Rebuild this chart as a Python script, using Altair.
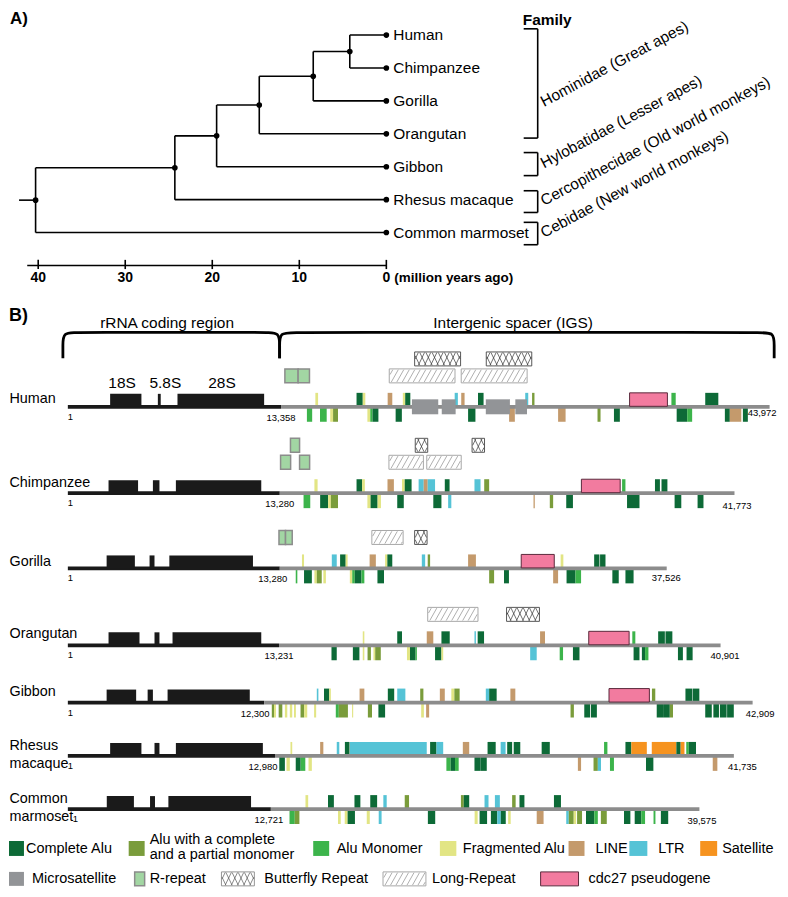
import altair as alt
import pandas as pd

FONT = "Liberation Sans, Arial, Helvetica, sans-serif"

# ===================== A) phylogeny data =====================
species = ["Human", "Chimpanzee", "Gorilla", "Orangutan", "Gibbon",
           "Rhesus macaque", "Common marmoset"]
node_name = ["n1", "n2", "n3", "n4", "n5", "root"]
node_left = ["Human", "n1", "n2", "n3", "n4", "n5"]
node_right = ["Chimpanzee", "Gorilla", "Orangutan", "Gibbon",
              "Rhesus macaque", "Common marmoset"]
node_age = [4.2, 8.4, 14.6, 19.5, 24.3, 40.3]      # million years ago
stem_age = 42.2
time_ticks = [40, 30, 20, 10, 0]
family_label = ["Hominidae (Great apes)", "Hylobatidae (Lesser apes)",
                "Cercopithecidae (Old world monkeys)", "Cebidae (New world monkeys)"]
family_top = [-0.19, 3.57, 4.73, 5.69]             # species-row units
family_bottom = [3.13, 4.27, 5.39, 6.37]

# ===================== B) rDNA units (kb) =====================
rrna_end = [13.358, 13.280, 13.280, 13.231, 12.300, 12.980, 12.721]
total_len = [43.972, 41.773, 37.526, 40.901, 42.909, 41.735, 39.575]
gene_names = ["18S", "5.8S", "28S"]
gene_18S = [(2.65, 4.61), (2.55, 4.40), (2.43, 4.20), (2.55, 4.49), (2.43, 4.28), (2.65, 4.61), (2.44, 4.14)]
gene_58S = [(5.64, 5.82), (5.33, 5.74), (5.12, 5.43), (5.43, 5.74), (5.00, 5.33), (5.43, 5.74), (5.15, 5.46)]
gene_28S = [(6.87, 12.30), (6.77, 12.12), (6.36, 11.60), (6.56, 12.12), (6.25, 11.40), (6.77, 12.22), (6.30, 11.48)]

# repeat codes: CA complete Alu, AP Alu complete+partial, AM Alu monomer,
# FA fragmented Alu, LN LINE, LT LTR, SA satellite
human_up = [(15.51, 15.68, "FA"), (18.09, 18.48, "CA"), (18.48, 18.64, "FA"), (20.04, 20.33, "LN"),
            (20.99, 21.14, "FA"), (21.14, 21.46, "CA"), (24.24, 24.44, "LT"), (24.65, 24.86, "LN"),
            (25.70, 26.05, "CA"), (28.66, 28.85, "LT"), (29.09, 29.24, "AP"), (37.82, 38.09, "AM"),
            (39.94, 40.76, "CA")]
human_down = [(14.98, 15.31, "AM"), (15.80, 16.22, "AM"), (16.44, 16.62, "FA"), (16.62, 16.93, "AP"),
              (18.77, 18.95, "FA"), (18.95, 19.09, "AM"), (19.09, 19.46, "CA"), (20.54, 20.93, "CA"),
              (25.08, 25.54, "CA"), (27.65, 28.01, "LN"), (30.72, 31.19, "LN"), (33.19, 33.38, "AP"),
              (34.22, 34.59, "CA"), (38.15, 38.81, "CA"), (38.81, 39.12, "AM"), (41.17, 41.48, "CA"),
              (41.48, 42.20, "LN"), (42.30, 42.61, "CA")]
chimp_up = [(15.45, 15.65, "FA"), (18.09, 18.44, "CA"), (18.44, 18.61, "FA"), (20.03, 20.43, "LN"),
            (20.94, 21.11, "FA"), (21.11, 21.54, "CA"), (21.98, 22.30, "LT"), (22.30, 22.55, "LN"),
            (22.55, 23.01, "LT"), (23.62, 23.92, "CA"), (25.48, 25.86, "LT"), (26.09, 26.40, "AP"),
            (34.73, 34.94, "AM"), (36.79, 37.10, "CA"), (37.20, 37.57, "CA")]
chimp_down = [(14.77, 15.19, "AM"), (15.81, 16.31, "CA"), (16.31, 16.48, "FA"), (16.48, 16.93, "AP"),
              (18.77, 18.97, "FA"), (18.97, 19.41, "CA"), (19.41, 19.62, "FA"), (20.64, 21.05, "CA"),
              (22.90, 23.41, "CA"), (23.83, 24.03, "LT"), (29.18, 29.26, "LN"), (30.20, 30.41, "AP"),
              (31.23, 31.65, "CA"), (35.04, 35.82, "CA"), (38.02, 38.44, "CA"), (39.46, 39.83, "CA")]
gorilla_up = [(14.67, 14.80, "FA"), (16.54, 16.85, "LT"), (17.06, 17.41, "CA"), (17.41, 17.53, "FA"),
              (18.91, 19.30, "LN"), (19.88, 20.02, "FA"), (20.02, 20.33, "CA"), (22.18, 22.39, "LT"),
              (22.55, 22.70, "AP"), (25.08, 25.57, "LN"), (30.88, 31.05, "FA"), (32.98, 33.31, "CA"),
              (33.35, 33.69, "CA")]
gorilla_down = [(14.28, 14.38, "AM"), (14.80, 15.29, "CA"), (15.45, 15.60, "FA"), (15.60, 15.91, "AP"),
                (16.01, 16.17, "FA"), (17.67, 17.82, "FA"), (17.82, 17.98, "AM"), (17.98, 18.40, "CA"),
                (18.40, 18.58, "AM"), (19.40, 19.81, "CA"), (26.40, 26.71, "AP"), (27.33, 27.64, "CA"),
                (30.41, 30.72, "LN"), (31.25, 31.81, "CA"), (31.81, 32.16, "AM"), (34.12, 34.52, "CA"),
                (34.94, 35.45, "CA")]
orangutan_up = [(18.48, 18.58, "FA"), (20.64, 20.94, "CA"), (22.49, 22.90, "LN"), (23.41, 23.93, "CA"),
                (25.48, 25.57, "LT"), (25.68, 26.08, "CA"), (29.59, 29.90, "LN"), (35.37, 35.56, "AM"),
                (36.99, 37.41, "CA"), (37.45, 37.88, "CA")]
orangutan_down = [(16.52, 16.85, "CA"), (17.86, 18.27, "CA"), (18.48, 18.58, "FA"), (18.78, 18.99, "AP"),
                  (19.15, 19.26, "FA"), (19.26, 19.61, "AP"), (21.25, 21.44, "FA"), (21.44, 21.79, "CA"),
                  (21.79, 21.87, "AM"), (23.01, 23.41, "CA"), (23.41, 23.52, "FA"), (28.97, 29.38, "LT"),
                  (30.82, 31.03, "AM"), (31.65, 32.06, "CA"), (35.45, 35.82, "CA"), (35.97, 36.17, "CA"),
                  (36.17, 36.38, "AM"), (38.23, 38.54, "CA"), (38.77, 39.15, "CA")]
gibbon_up = [(15.60, 15.70, "LT"), (16.05, 16.38, "CA"), (16.38, 16.48, "FA"), (18.28, 18.58, "LN"),
             (20.05, 20.45, "CA"), (20.64, 21.15, "LT"), (22.08, 22.28, "AP"), (23.31, 23.62, "LN"),
             (24.03, 24.22, "FA"), (24.22, 24.55, "AP"), (26.19, 26.40, "LT"), (26.40, 26.87, "CA"),
             (27.73, 28.04, "LN"), (36.60, 36.81, "AP"), (38.70, 39.12, "CA"), (39.15, 39.57, "CA")]
gibbon_down = [(12.78, 12.92, "AP"), (12.92, 13.04, "FA"), (13.21, 13.44, "AP"), (13.60, 13.75, "FA"),
               (13.91, 14.06, "FA"), (14.17, 14.29, "FA"), (14.58, 14.81, "AP"), (14.81, 15.00, "FA"),
               (15.43, 15.56, "FA"), (16.79, 16.98, "AM"), (16.98, 17.55, "AP"), (17.81, 17.88, "FA"),
               (18.80, 19.06, "AP"), (19.46, 19.88, "CA"), (22.14, 22.31, "FA"), (22.45, 22.64, "LN"),
               (31.50, 31.71, "AP"), (32.36, 32.73, "CA"), (32.78, 33.15, "CA"), (36.90, 37.30, "CA"),
               (37.30, 37.72, "CA"), (37.72, 37.92, "AP"), (39.94, 40.35, "CA"), (40.45, 40.80, "CA"),
               (40.86, 41.28, "CA"), (41.31, 41.73, "CA")]
rhesus_up = [(13.95, 14.06, "FA"), (15.81, 16.01, "LN"), (16.85, 17.01, "LT"), (17.36, 17.65, "CA"),
             (17.68, 22.49, "LT"), (22.70, 23.10, "CA"), (23.10, 23.52, "LT"), (24.75, 25.15, "LN"),
             (26.30, 26.81, "CA"), (27.12, 27.43, "LT"), (27.53, 27.84, "CA"), (27.94, 28.35, "CA"),
             (29.69, 30.20, "CA"), (33.60, 33.81, "AM"), (34.94, 35.31, "CA"), (35.31, 36.28, "SA"),
             (36.59, 38.13, "SA"), (38.13, 38.40, "CA"), (38.40, 38.64, "SA"), (38.75, 38.91, "AM"),
             (38.91, 39.36, "CA")]
rhesus_down = [(13.25, 13.60, "CA"), (13.70, 13.91, "FA"), (14.28, 14.59, "CA"), (14.59, 14.88, "AM"),
               (15.08, 15.29, "FA"), (23.72, 23.99, "AM"), (23.99, 24.26, "CA"), (24.26, 24.49, "AM"),
               (25.48, 25.85, "CA"), (25.85, 26.25, "CA"), (31.96, 32.16, "LN"), (32.94, 33.21, "AP"),
               (33.21, 33.41, "LT"), (33.97, 34.22, "AM"), (36.23, 36.69, "CA"), (40.41, 40.70, "LN")]
marmoset_up = [(14.89, 15.06, "FA"), (16.30, 16.67, "CA"), (17.96, 18.33, "CA"), (18.95, 19.38, "CA"),
               (19.77, 19.98, "LT"), (21.11, 21.38, "AP"), (24.63, 24.81, "AP"), (24.81, 25.15, "CA"),
               (26.11, 26.36, "LT"), (26.76, 27.07, "LT"), (27.84, 28.06, "AP"), (28.30, 28.61, "CA"),
               (30.46, 30.90, "CA")]
marmoset_down = [(13.89, 14.22, "AM"), (14.22, 14.51, "AP"), (16.93, 17.10, "FA"), (17.35, 17.53, "FA"),
                 (17.53, 17.99, "CA"), (18.73, 18.92, "FA"), (19.48, 19.66, "LT"), (22.56, 23.02, "CA"),
                 (25.49, 25.68, "FA"), (25.80, 26.27, "CA"), (26.51, 26.91, "CA"), (26.91, 27.13, "LT"),
                 (27.13, 27.44, "CA"), (27.59, 27.75, "FA"), (29.38, 29.81, "LN"), (31.23, 31.39, "LT"),
                 (31.39, 31.70, "AP"), (31.70, 31.85, "FA"), (31.91, 32.22, "AP"), (32.47, 32.99, "CA"),
                 (32.99, 33.21, "AM"), (33.40, 33.77, "AP"), (34.85, 35.25, "CA"), (35.52, 35.93, "CA"),
                 (35.93, 36.17, "AM"), (36.70, 36.82, "AM"), (37.16, 37.62, "CA")]
human_micro = [(21.56, 23.21), (23.43, 24.30), (26.19, 27.70), (28.04, 28.77)]
cdc27 = [(35.20, 37.57), (32.18, 34.61), (28.41, 30.48), (32.64, 35.17), (33.91, 36.44), None, None]
# (start, end, stacking level above the line)
r_repeat = [[(13.60, 14.43, 1), (14.43, 15.14, 1)],
            [(13.33, 13.96, 1), (14.52, 15.15, 1), (13.95, 14.52, 2)],
            [(13.23, 13.64, 1), (13.64, 14.06, 1)], [], [], [], []]
long_repeat = [[(20.14, 24.26, 1), (24.65, 28.78, 1)],
               [(20.12, 22.28, 1), (22.49, 24.65, 1)],
               [(19.05, 21.01, 1)], [(22.55, 25.70, 1)], [], [], []]
butterfly = [[(21.73, 24.61, 2), (26.22, 29.07, 2)],
             [(21.77, 22.55, 2), (25.33, 26.11, 2)],
             [(21.73, 22.51, 1)], [(27.49, 29.55, 1)], [], [], []]

up_lists = [human_up, chimp_up, gorilla_up, orangutan_up, gibbon_up, rhesus_up, marmoset_up]
down_lists = [human_down, chimp_down, gorilla_down, orangutan_down, gibbon_down, rhesus_down, marmoset_down]

rep_color = {"CA": "#0d6a37", "AP": "#7a9c3b", "AM": "#3cb44b", "FA": "#e2e584",
             "LN": "#c49a6c", "LT": "#55c3d6", "SA": "#f6931f", "MS": "#929497"}
legend_labels = ["Complete Alu", "Alu with a complete|and a partial monomer", "Alu Monomer",
                 "Fragmented Alu", "LINE", "LTR", "Satellite", "Microsatellite", "R-repeat",
                 "Butterfly Repeat", "Long-Repeat", "cdc27 pseudogene"]
legend_kind = ["CA", "AP", "AM", "FA", "LN", "LT", "SA", "MS", "RR", "BF", "LR", "CD"]

# ===================== layout =====================
WA, HA = 772, 282
WB, HB = 772, 540
WC, HC = 772, 59
XB0 = -3.75
XB1 = XB0 + WB / 16.0
PXKB = WB / (XB1 - XB0)
row_line = [116.7, 203.3, 278.7, 355.8, 413.2, 466.7, 520.0]
label_y = [109, 193, 272.7, 344, 403, 456.7, 510]
end_dx = [-22, -12, -15, -10, -7, -6, -12]
end_dy = [6.5, 12.5, 10, 11, 11, 11.5, 11.5]
rrna_dx = [0, 0, -7, 0, -9, -12, -2]
one_dx = [0, 0, 0, 0, 0, 0, 5]
LVL = {1: (-38, -24), 2: (-55, -41)}
black = "#1a1a1a"

xsA = alt.Scale(domain=[-45.0, 43.47], reverse=True, nice=False, zero=False)
ysA = alt.Scale(domain=[-0.788, 7.758], reverse=True, nice=False, zero=False)
xsB = alt.Scale(domain=[XB0, XB1], nice=False, zero=False)
ysB = alt.Scale(domain=[0, HB], reverse=True, nice=False, zero=False)
xsC = alt.Scale(domain=[0, WC], nice=False, zero=False)
ysC = alt.Scale(domain=[0, HC], reverse=True, nice=False, zero=False)


def enc(xs, ys, x="x", y="y", x2=None, y2=None):
    e = dict(x=alt.X(f"{x}:Q", scale=xs, axis=None), y=alt.Y(f"{y}:Q", scale=ys, axis=None))
    if x2:
        e["x2"] = alt.X2(f"{x2}:Q")
    if y2:
        e["y2"] = alt.Y2(f"{y2}:Q")
    return e


def hatch(x0, x1, y0, y1, step, run, mirror):
    h = y1 - y0
    out = []
    c = x0 - run + step * 0.5
    while c < x1:
        s_lo = max(0.0, (x0 - c) / run)
        s_hi = min(1.0, (x1 - c) / run)
        if s_hi - s_lo > 1e-6:
            xa, ya = c + run * s_lo, y1 - h * s_lo
            xb, yb = c + run * s_hi, y1 - h * s_hi
            if mirror:
                xa, xb = x0 + x1 - xa, x0 + x1 - xb
            out.append(dict(x=xa, y=ya, x2=xb, y2=yb))
        c += step
    return out


def px_of(kb):
    return (kb - XB0) * PXKB


def kb_of(px):
    return px / PXKB + XB0


def T(df, **kw):
    base = dict(font=FONT, color="black")
    base.update(kw)
    return alt.Chart(pd.DataFrame(df)).mark_text(**base)


# ===================== Panel A =====================
row_of = {s: float(i) for i, s in enumerate(species)}
age_of = {s: 0.0 for s in species}
for n, l, r, a in zip(node_name, node_left, node_right, node_age):
    row_of[n] = (row_of[l] + row_of[r]) / 2
    age_of[n] = a
edges = []
for n, l, r in zip(node_name, node_left, node_right):
    for c in (l, r):
        edges.append(dict(x=age_of[n], x2=age_of[c], y=row_of[c], y2=row_of[c]))
    edges.append(dict(x=age_of[n], x2=age_of[n], y=row_of[l], y2=row_of[r]))
edges.append(dict(x=stem_age, x2=age_of["root"], y=row_of["root"], y2=row_of["root"]))
# axis
edges.append(dict(x=41.26, x2=0, y=7.0, y2=7.0))
for t in time_ticks:
    edges.append(dict(x=t, x2=t, y=6.83, y2=7.11))
# family brackets
for tp, bt in zip(family_top, family_bottom):
    edges.append(dict(x=-17.39, x2=-17.39, y=tp, y2=bt))
    edges.append(dict(x=-15.78, x2=-17.39, y=tp, y2=tp))
    edges.append(dict(x=-15.78, x2=-17.39, y=bt, y2=bt))

treeA = alt.Chart(pd.DataFrame(edges)).mark_rule(color="black", strokeWidth=1.6).encode(
    **enc(xsA, ysA, x2="x2", y2="y2"))
nodes = [dict(x=age_of[k], y=row_of[k]) for k in list(species) + node_name]
dotsA = alt.Chart(pd.DataFrame(nodes)).mark_circle(color="black", opacity=1, size=32).encode(
    **enc(xsA, ysA))
spA = T(dict(x=[0.0] * 7, y=list(range(7)), t=species), align="left", baseline="middle",
        dx=7, fontSize=15.5).encode(**enc(xsA, ysA), text="t:N")
tickA = T(dict(x=time_ticks, y=[7.39] * 5, t=[str(v) for v in time_ticks]), align="center",
          baseline="middle", fontSize=14, fontWeight="bold").encode(**enc(xsA, ysA), text="t:N")
unitA = T(dict(x=[0.0], y=[7.39], t=["(million years ago)"]), align="left", baseline="middle",
          dx=8, fontSize=13.5, fontWeight="bold").encode(**enc(xsA, ysA), text="t:N")
fam_row = [2.05] + [(a + b) / 2 for a, b in zip(family_top[1:], family_bottom[1:])]
famA = T(dict(x=[-17.85] * 4, y=fam_row, t=family_label), align="left", baseline="middle",
         angle=332, fontSize=15.5).encode(**enc(xsA, ysA), text="t:N")
famTitle = T(dict(x=[-15.67], y=[-0.45], t=["Family"]), align="left", baseline="middle",
             fontSize=15.5, fontWeight="bold").encode(**enc(xsA, ysA), text="t:N")
labA = T(dict(t=["A)"]), align="left", baseline="top", fontSize=17, fontWeight="bold").encode(
    x=alt.value(2), y=alt.value(2), text="t:N")

panelA = alt.layer(treeA, dotsA, spA, tickA, unitA, famA, famTitle, labA).properties(
    width=WA, height=HA)

# ===================== Panel B =====================
reps, micro, genes, lines, boxes_cd, boxes_rr, boxes_lr, boxes_bf = [], [], [], [], [], [], [], []
hatch_lr, hatch_bf = [], []
num_layers = []
for i in range(7):
    L = row_line[i]
    for s, e, c in up_lists[i]:
        reps.append(dict(x=s, x2=e, y=L - 14, y2=L, fill=rep_color[c]))
    for s, e, c in down_lists[i]:
        reps.append(dict(x=s, x2=e, y=L, y2=L + 15, fill=rep_color[c]))
    if i == 0:
        for s, e in human_micro:
            micro.append(dict(x=s, x2=e, y=L - 7.5, y2=L + 7.5))
    for g in (gene_18S[i], gene_58S[i], gene_28S[i]):
        genes.append(dict(x=g[0], x2=g[1], y=L - 13, y2=L))
    lines.append(dict(x=0, x2=rrna_end[i], y=L, col=black))
    lines.append(dict(x=rrna_end[i], x2=total_len[i], y=L, col="#8c8c8c"))
    if cdc27[i]:
        boxes_cd.append(dict(x=cdc27[i][0], x2=cdc27[i][1], y=L - 14, y2=L - 0.5))
    for s, e, lv in r_repeat[i]:
        boxes_rr.append(dict(x=s, x2=e, y=L + LVL[lv][0], y2=L + LVL[lv][1]))
    for s, e, lv in long_repeat[i]:
        y0, y1 = L + LVL[lv][0], L + LVL[lv][1]
        boxes_lr.append(dict(x=s, x2=e, y=y0, y2=y1))
        for seg in hatch(px_of(s) + 0.8, px_of(e) - 0.8, y0 + 0.8, y1 - 0.8, 5.5, 7.0, False):
            hatch_lr.append(dict(x=kb_of(seg["x"]), x2=kb_of(seg["x2"]), y=seg["y"], y2=seg["y2"]))
    for s, e, lv in butterfly[i]:
        y0, y1 = L + LVL[lv][0], L + LVL[lv][1]
        boxes_bf.append(dict(x=s, x2=e, y=y0, y2=y1))
        for m in (False, True):
            for seg in hatch(px_of(s) + 0.6, px_of(e) - 0.6, y0 + 0.6, y1 - 0.6, 6.2, 6.2, m):
                hatch_bf.append(dict(x=kb_of(seg["x"]), x2=kb_of(seg["x2"]), y=seg["y"], y2=seg["y2"]))
    num_layers.append(T(dict(x=[0.0], y=[L + 10], t=["1"]), align="left", baseline="middle",
                        fontSize=9.5, dx=one_dx[i]).encode(**enc(xsB, ysB), text="t:N"))
    num_layers.append(T(dict(x=[rrna_end[i]], y=[L + 11], t=[f"{round(rrna_end[i] * 1000):,}"]),
                        align="center", baseline="middle", fontSize=9.5, dx=rrna_dx[i]).encode(
        **enc(xsB, ysB), text="t:N"))
    num_layers.append(T(dict(x=[total_len[i]], y=[L + end_dy[i]], t=[f"{round(total_len[i] * 1000):,}"]),
                        align="left", baseline="middle", fontSize=9.5, dx=end_dx[i]).encode(
        **enc(xsB, ysB), text="t:N"))

E = enc(xsB, ysB, x2="x2", y2="y2")
repB = alt.Chart(pd.DataFrame(reps)).mark_rect().encode(**E, fill=alt.Fill("fill:N", scale=None))
lineB = alt.Chart(pd.DataFrame(lines)).mark_rule(strokeWidth=3.8).encode(
    **enc(xsB, ysB, x2="x2"), color=alt.Color("col:N", scale=None))
microB = alt.Chart(pd.DataFrame(micro)).mark_rect(fill="#929497").encode(**E)
geneB = alt.Chart(pd.DataFrame(genes)).mark_rect(fill=black).encode(**E)
cdB = alt.Chart(pd.DataFrame(boxes_cd)).mark_rect(fill="#f27b9f", stroke="#5a2a3c", strokeWidth=1).encode(**E)
rrB = alt.Chart(pd.DataFrame(boxes_rr)).mark_rect(fill="#a2d6a3", stroke="#8c8c8c", strokeWidth=1.5).encode(**E)
lrB = alt.Chart(pd.DataFrame(boxes_lr)).mark_rect(fill="white", stroke="#a8a8a8", strokeWidth=1).encode(**E)
lrH = alt.Chart(pd.DataFrame(hatch_lr)).mark_rule(color="#9a9a9a", strokeWidth=0.8).encode(**E)
bfB = alt.Chart(pd.DataFrame(boxes_bf)).mark_rect(fill="white", stroke="#444444", strokeWidth=0.9).encode(**E)
bfH = alt.Chart(pd.DataFrame(hatch_bf)).mark_rule(color="#333333", strokeWidth=0.7).encode(**E)

# species labels (two-word names on two lines)
sp_rows = []
for i, s in enumerate(species):
    parts = s.split(" ") if i >= 5 else [s]
    for k, p in enumerate(parts):
        sp_rows.append(dict(y=label_y[i] + 18 * k, t=p))
spB = T(sp_rows, align="left", baseline="middle", fontSize=14.4).encode(
    x=alt.value(1.5), y=alt.Y("y:Q", scale=ysB, axis=None), text="t:N")

# braces
xL, xM, xR = -0.31, 13.27, 44.26
br = []
for bid, (a, b) in enumerate([(xL, xM), (xM, xR)]):
    pts = [(a, 68), (a, 55), (a, 42), (a + 0.9, 42), (b - 0.9, 42), (b, 42), (b, 55), (b, 68)]
    for k, (px_, py_) in enumerate(pts):
        br.append(dict(x=px_, y=py_, id=bid, o=k))
braceB = alt.Chart(pd.DataFrame(br)).mark_line(color="black", strokeWidth=2.8, interpolate="basis").encode(
    **enc(xsB, ysB), detail="id:N", order="o:Q")
braceLab = T(dict(x=[6.22, 27.9], y=[32.3, 32.3], t=["rRNA coding region", "Intergenic spacer (IGS)"]),
             align="center", baseline="middle", fontSize=15.5).encode(**enc(xsB, ysB), text="t:N")
geneLab = T(dict(x=[3.40, 6.11, 9.66], y=[93.3] * 3, t=gene_names), align="center", baseline="middle",
            fontSize=15.5).encode(**enc(xsB, ysB), text="t:N")
labB = T(dict(t=["B)"]), align="left", baseline="middle", fontSize=18, fontWeight="bold").encode(
    x=alt.value(1), y=alt.value(26), text="t:N")

panelB = alt.layer(braceB, braceLab, geneLab, labB, spB, repB, lineB, microB, geneB, cdB, rrB,
                   lrB, lrH, bfB, bfH, *num_layers).properties(width=WB, height=HB)

# ===================== Panel C (legend) =====================
sw_x = [(1, 16), (121, 137), (306, 322), (433, 449.5), (562, 578), (623, 641), (694, 711),
        (1, 16), (127, 137), (214, 247), (376, 419), (534, 572)]
txt_x = [18, 142, 329.5, 456, 589, 652, 716, 24, 142, 257, 425, 582]
leg_row = [0, 0, 0, 0, 0, 0, 0, 1, 1, 1, 1, 1]
row_sq = [(12, 27), (43, 57)]
row_txt = [20.5, 50]
sq, sq_rr, sq_cd, sq_lr, sq_bf, hl, hb, lt = [], [], [], [], [], [], [], []
for k, kind in enumerate(legend_kind):
    x0, x1 = sw_x[k]
    y0, y1 = row_sq[leg_row[k]]
    d = dict(x=x0, x2=x1, y=y0, y2=y1)
    if kind in rep_color:
        sq.append(dict(d, fill=rep_color[kind]))
    elif kind == "RR":
        sq_rr.append(d)
    elif kind == "CD":
        sq_cd.append(d)
    elif kind == "LR":
        sq_lr.append(d)
        hl += hatch(x0 + 0.8, x1 - 0.8, y0 + 0.8, y1 - 0.8, 5.5, 7.0, False)
    elif kind == "BF":
        sq_bf.append(d)
        for m in (False, True):
            hb += hatch(x0 + 0.6, x1 - 0.6, y0 + 0.6, y1 - 0.6, 6.2, 6.2, m)
    parts = legend_labels[k].split("|")
    if len(parts) == 1:
        lt.append(dict(x=txt_x[k], y=row_txt[leg_row[k]], t=parts[0]))
    else:
        lt.append(dict(x=txt_x[k], y=11.5, t=parts[0]))
        lt.append(dict(x=txt_x[k], y=26.5, t=parts[1]))
EC = enc(xsC, ysC, x2="x2", y2="y2")
legC = alt.layer(
    alt.Chart(pd.DataFrame(sq)).mark_rect().encode(**EC, fill=alt.Fill("fill:N", scale=None)),
    alt.Chart(pd.DataFrame(sq_rr)).mark_rect(fill="#a2d6a3", stroke="#8c8c8c", strokeWidth=1.5).encode(**EC),
    alt.Chart(pd.DataFrame(sq_cd)).mark_rect(fill="#f27b9f", stroke="#5a2a3c", strokeWidth=1).encode(**EC),
    alt.Chart(pd.DataFrame(sq_lr)).mark_rect(fill="white", stroke="#a8a8a8", strokeWidth=1).encode(**EC),
    alt.Chart(pd.DataFrame(hl)).mark_rule(color="#9a9a9a", strokeWidth=0.8).encode(**EC),
    alt.Chart(pd.DataFrame(sq_bf)).mark_rect(fill="white", stroke="#888888", strokeWidth=0.9).encode(**EC),
    alt.Chart(pd.DataFrame(hb)).mark_rule(color="#555555", strokeWidth=0.7).encode(**EC),
    T(lt, align="left", baseline="middle", fontSize=14.5).encode(**enc(xsC, ysC), text="t:N"),
).properties(width=WC, height=HC)

chart = alt.vconcat(panelA, panelB, legC, spacing=0, padding=0).resolve_scale(
    x="independent", y="independent").configure_view(stroke=None)

chart.save("out.html", embed_options={"renderer": "svg", "actions": False})
